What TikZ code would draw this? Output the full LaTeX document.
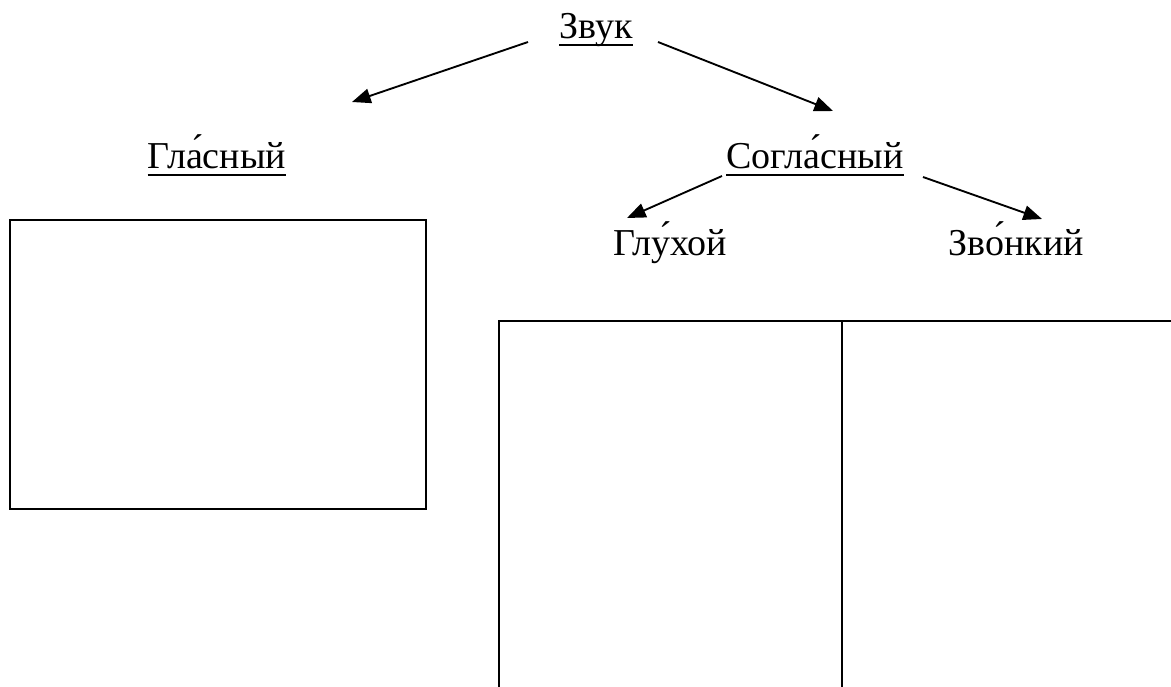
\documentclass[tikz,border=0pt]{standalone}
\usepackage{fontspec}
\setmainfont{Liberation Serif}
\usetikzlibrary{arrows.meta}
\begin{document}
\begin{tikzpicture}[x=0.75pt,y=-0.75pt,
  lbl/.style={inner sep=0pt,anchor=base,font=\fontsize{28.5}{34}\selectfont},
  uline/.style={line width=1.5pt},
  arr/.style={line width=1.4pt,-{Triangle[length=14pt,width=11pt]}},
  frame/.style={line width=1.7pt}]
\useasboundingbox (0,0) rectangle (1171,686);
% labels
\node[lbl] (zvuk) at (596,38) {Звук};
\node[lbl] (glas) at (217,168) {Гла́сный};
\node[lbl] (sogl) at (815,168) {Согла́сный};
\node[lbl] (gluh) at (670,255) {Глу́хой};
\node[lbl] (zvon) at (1016.5,255) {Зво́нкий};
% underlines
\draw[uline] ([yshift=-5]zvuk.base west) -- ([yshift=-5]zvuk.base east);
\draw[uline] ([yshift=-5]glas.base west) -- ([yshift=-5]glas.base east);
\draw[uline] ([yshift=-5]sogl.base west) -- ([yshift=-5]sogl.base east);
% arrow end points
\coordinate (zl) at (528,42);
\coordinate (zr) at (658,42);
\coordinate (gtip) at (352,102);
\coordinate (stip) at (833,111);
\coordinate (sl) at (722,176);
\coordinate (sr) at (923,177);
\coordinate (ltip) at (627,218);
\coordinate (rtip) at (1042,219);
\draw[arr] (zl) -- (gtip);
\draw[arr] (zr) -- (stip);
\draw[arr] (sl) -- (ltip);
\draw[arr] (sr) -- (rtip);
% boxes
\draw[frame] (10,220) rectangle (426,509);
\draw[frame] (1172,321) -- (499,321) -- (499,687);
\draw[frame] (842,321) -- (842,687);
\end{tikzpicture}
\end{document}
